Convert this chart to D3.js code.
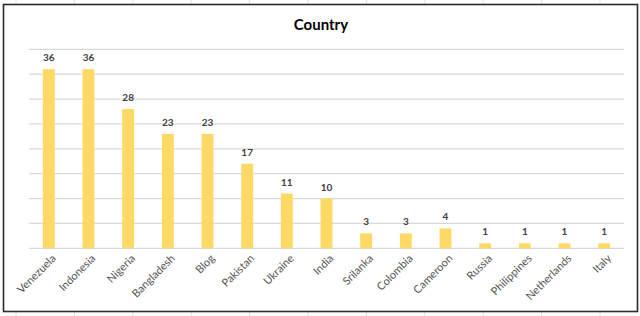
<!DOCTYPE html>
<html>
<head>
<meta charset="utf-8">
<script src="https://cdn.jsdelivr.net/npm/d3@7"></script>
<style>
  body { margin: 0; background: #fff; }
  svg { display: block; font-family: Lato, "Open Sans", sans-serif; }
</style>
</head>
<body>
<svg id="chart" width="640" height="316"></svg>
<script>
// data
const countries = ["Venezuela", "Indonesia", "Nigeria", "Bangladesh", "Blog", "Pakistan", "Ukraine", "India",
  "Srilanka", "Colombia", "Cameroon", "Russia", "Philippines", "Netherlands", "Italy"];
const counts = [36, 36, 28, 23, 23, 17, 11, 10, 3, 3, 4, 1, 1, 1, 1];
const yTicks = [0, 5, 10, 15, 20, 25, 30, 35, 40];
const title = "Country";

const data = countries.map((c, i) => ({name: c, value: counts[i]}));

const svg = d3.select("#chart");
const W = 640, H = 316;

// faint spreadsheet cell lines behind the chart
const cellX = d3.range(16, 640, 58.4);
svg.selectAll(".cell")
  .data(cellX)
  .enter().append("line")
    .attr("x1", d => d).attr("x2", d => d)
    .attr("y1", 0).attr("y2", H)
    .attr("stroke", "#e2e2e2").attr("stroke-width", 1);

// chart frame
svg.append("rect")
  .attr("x", 3.5).attr("y", 4.5)
  .attr("width", 634).attr("height", 307)
  .attr("fill", "#fff")
  .attr("stroke", "#2b2b2b").attr("stroke-width", 1.6);

const plotL = 29, plotR = 624, plotT = 49.3, plotB = 248.3;

const x = d3.scaleBand().domain(countries).range([plotL, plotR]).paddingInner(0.7).paddingOuter(0.35);
const y = d3.scaleLinear().domain([0, 40]).range([plotB, plotT]);

// gridlines
svg.append("g")
  .selectAll("line")
  .data(yTicks)
  .enter().append("line")
    .attr("x1", plotL).attr("x2", plotR)
    .attr("y1", d => y(d)).attr("y2", d => y(d))
    .attr("stroke", "#d9d9d9").attr("stroke-width", 1.2);

// bars
svg.append("g")
  .selectAll("rect")
  .data(data)
  .enter().append("rect")
    .attr("x", d => x(d.name))
    .attr("width", x.bandwidth())
    .attr("y", d => y(d.value))
    .attr("height", d => y(0) - y(d.value))
    .attr("fill", "#ffd966");

// value labels
svg.append("g")
  .selectAll("text")
  .data(data)
  .enter().append("text")
    .attr("x", d => x(d.name) + x.bandwidth() / 2)
    .attr("y", d => y(d.value) - 8)
    .attr("text-anchor", "middle")
    .attr("font-size", 10)
    .attr("font-weight", "bold")
    .attr("fill", "#404040")
    .text(d => d.value);

// category labels
svg.append("g")
  .selectAll("text")
  .data(data)
  .enter().append("text")
    .attr("transform", d => `translate(${x(d.name) + x.bandwidth() / 2 + 5},${plotB + 8}) rotate(-45)`)
    .attr("text-anchor", "end")
    .attr("dy", "0.35em")
    .attr("font-size", 11)
    .attr("fill", "#555")
    .text(d => d.name);

// title
svg.append("text")
  .attr("x", 321).attr("y", 29.5)
  .attr("text-anchor", "middle")
  .attr("font-size", 15)
  .attr("font-weight", "bold")
  .attr("fill", "#000")
  .text(title);
</script>
</body>
</html>
